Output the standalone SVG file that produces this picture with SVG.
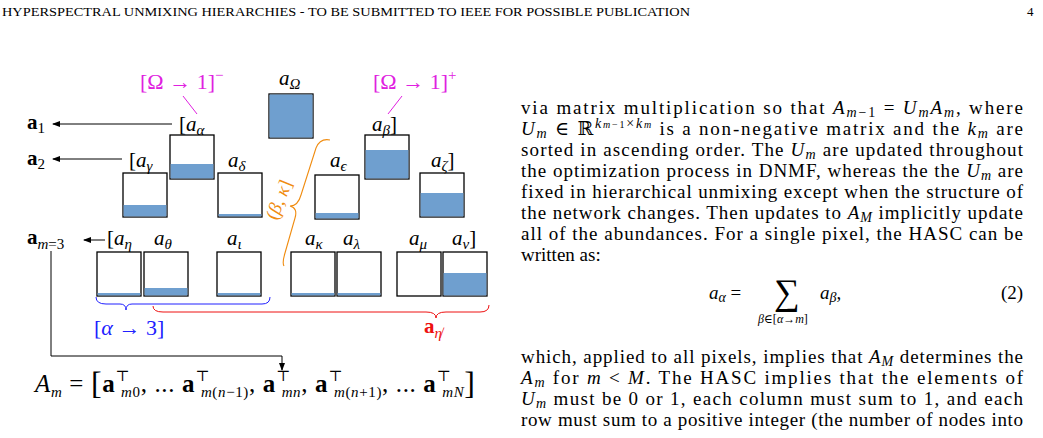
<svg xmlns="http://www.w3.org/2000/svg" width="1043" height="438" viewBox="0 0 1043 438">
<style>
text{font-family:"Liberation Serif","DejaVu Serif",serif;fill:#000}
.i{font-style:italic}
.b{font-weight:bold}
.lab{font-size:21px}
.body{font-size:19px}
.box{fill:#fff;stroke:#000;stroke-width:1.3}
.fill{fill:#6f9fcf}
.conn{fill:none;stroke:#000;stroke-width:1}
.mag{fill:#e020e0}
.s{font-size:15px}
.t{font-size:14px}
</style>
<defs>
<marker id="ah" markerWidth="8" markerHeight="6" refX="7" refY="3" orient="auto" markerUnits="userSpaceOnUse"><path d="M0,0 L8,3 L0,6 z" fill="#000"/></marker>
</defs>
<rect width="1043" height="438" fill="#fff"/>
<text x="2" y="16" font-size="13" textLength="688" lengthAdjust="spacingAndGlyphs">HYPERSPECTRAL UNMIXING HIERARCHIES - TO BE SUBMITTED TO IEEE FOR POSSIBLE PUBLICATION</text>
<text x="1027" y="16" font-size="13">4</text>

<g id="nodes">
<g id="aOmega"><rect class="box" x="269" y="94" width="44" height="44"/><rect class="fill" x="269.5" y="94.5" width="43" height="43"/><text class="lab i" x="279" y="85">a<tspan class="s" dy="4">Ω</tspan></text></g>
<g id="aAlpha"><rect class="box" x="170" y="135" width="44" height="44"/><rect class="fill" x="170.6" y="164" width="42.8" height="14.4"/><text class="lab i" x="179" y="131"><tspan font-style="normal">[</tspan>a<tspan class="s" dy="4">α</tspan></text></g>
<g id="aBeta"><rect class="box" x="365" y="135" width="44" height="44"/><rect class="fill" x="365.6" y="150" width="42.8" height="28.4"/><text class="lab i" x="372" y="131">a<tspan class="s" dy="4">β</tspan><tspan font-style="normal" dy="-4">]</tspan></text></g>
<g id="aGamma"><rect class="box" x="123" y="173" width="44" height="44"/><rect class="fill" x="123.6" y="205" width="42.8" height="11.4"/><text class="lab i" x="129" y="167"><tspan font-style="normal">[</tspan>a<tspan class="s" dy="4">γ</tspan></text></g>
<g id="aDelta"><rect class="box" x="218" y="173" width="44" height="44"/><rect class="fill" x="218.6" y="214" width="42.8" height="2.4"/><text class="lab i" x="228" y="167">a<tspan class="s" dy="4">δ</tspan></text></g>
<g id="aEps"><rect class="box" x="315" y="175" width="44" height="44"/><rect class="fill" x="315.6" y="213" width="42.8" height="5.4"/><text class="lab i" x="330" y="167">a<tspan class="s" dy="4">ϵ</tspan></text></g>
<g id="aZeta"><rect class="box" x="420" y="173" width="44" height="44"/><rect class="fill" x="420.6" y="193" width="42.8" height="23.4"/><text class="lab i" x="431" y="167">a<tspan class="s" dy="4">ζ</tspan><tspan font-style="normal" dy="-4">]</tspan></text></g>
<g id="aEta"><rect class="box" x="97" y="252" width="44" height="44"/><rect class="fill" x="97.6" y="293" width="42.8" height="2.4"/><text class="lab i" x="107" y="245"><tspan font-style="normal">[</tspan>a<tspan class="s" dy="4">η</tspan></text></g>
<g id="aTheta"><rect class="box" x="144" y="252" width="44" height="44"/><rect class="fill" x="144.6" y="288" width="42.8" height="7.4"/><text class="lab i" x="154" y="245">a<tspan class="s" dy="4">θ</tspan></text></g>
<g id="aIota"><rect class="box" x="217" y="252" width="44" height="44"/><rect class="fill" x="217.6" y="293" width="42.8" height="2.4"/><text class="lab i" x="227" y="245">a<tspan class="s" dy="4">ι</tspan></text></g>
<g id="aKappa"><rect class="box" x="291" y="252" width="44" height="44"/><rect class="fill" x="291.6" y="293" width="42.8" height="2.4"/><text class="lab i" x="305" y="245">a<tspan class="s" dy="4">κ</tspan></text></g>
<g id="aLambda"><rect class="box" x="337" y="252" width="44" height="44"/><rect class="fill" x="337.6" y="293" width="42.8" height="2.4"/><text class="lab i" x="343" y="245">a<tspan class="s" dy="4">λ</tspan></text></g>
<g id="aMu"><rect class="box" x="397" y="252" width="44" height="44"/><text class="lab i" x="409" y="245">a<tspan class="s" dy="4">μ</tspan></text></g>
<g id="aNu"><rect class="box" x="443" y="252" width="44" height="44"/><rect class="fill" x="443.6" y="273" width="42.8" height="22.4"/><text class="lab i" x="452" y="245">a<tspan class="s" dy="4">ν</tspan><tspan font-style="normal" dy="-4">]</tspan></text></g>
<g id="a1"><text class="lab b" x="27" y="129">a<tspan class="s" font-weight="normal" dy="4">1</tspan></text></g>
<g id="a2"><text class="lab b" x="27" y="165">a<tspan class="s" font-weight="normal" dy="4">2</tspan></text></g>
<g id="am3"><text class="lab b" x="27" y="244">a<tspan class="s i" font-weight="normal" dy="5">m</tspan><tspan class="s" font-weight="normal">=3</tspan></text></g>
<g id="omegaMinus"><text class="mag" x="140" y="89" font-size="22">[Ω → 1]<tspan class="s" dy="-9">−</tspan></text></g>
<g id="omegaPlus"><text class="mag" x="373" y="89" font-size="22">[Ω → 1]<tspan class="s" dy="-9">+</tspan></text></g>
<g id="alpha3"><text x="94" y="335" style="fill:#2020ff" font-size="22">[<tspan class="i">α</tspan> → 3]</text></g>
<g id="anoteta"><text class="lab b" x="424" y="333" style="fill:#ee1010">a<tspan class="s i" font-weight="normal" dy="5">η̸</tspan></text></g>
<g id="betakappa"><text transform="translate(277,221) rotate(-68)" style="fill:#f08c10" font-size="19">(<tspan class="i">β</tspan>, <tspan class="i">κ</tspan>]</text></g>
<g id="formula"><text x="35" y="392" font-size="25" textLength="440" lengthAdjust="spacing"><tspan class="i">A</tspan><tspan class="s i" dy="5">m</tspan><tspan dy="-5"> = </tspan><tspan font-size="32" dy="2">[</tspan><tspan class="b" dy="-2">a</tspan><tspan class="s" dy="-11">⊤</tspan><tspan class="s i" dx="-9" dy="16">m</tspan><tspan class="s">0</tspan><tspan dy="-5">, ... </tspan><tspan class="b">a</tspan><tspan class="s" dy="-11">⊤</tspan><tspan class="s" dx="-9" dy="16"><tspan class="i">m</tspan>(<tspan class="i">n</tspan>−1)</tspan><tspan dy="-5">, </tspan><tspan class="b">a</tspan><tspan class="s" dy="-11">⊤</tspan><tspan class="s i" dx="-9" dy="16">mn</tspan><tspan dy="-5">, </tspan><tspan class="b">a</tspan><tspan class="s" dy="-11">⊤</tspan><tspan class="s" dx="-9" dy="16"><tspan class="i">m</tspan>(<tspan class="i">n</tspan>+1)</tspan><tspan dy="-5">, ... </tspan><tspan class="b">a</tspan><tspan class="s" dy="-11">⊤</tspan><tspan class="s i" dx="-9" dy="16">mN</tspan><tspan font-size="32" dy="-3">]</tspan></text></g>
</g>

<g id="connectors">
<line class="conn" x1="172" y1="124" x2="53" y2="124" marker-end="url(#ah)"/>
<line class="conn" x1="122" y1="159" x2="53" y2="159" marker-end="url(#ah)"/>
<line class="conn" x1="105" y1="240" x2="84" y2="240" marker-end="url(#ah)"/>
<path class="conn" d="M51,251 V356 H282 V370" marker-end="url(#ah)"/>
<line stroke="#e020e0" stroke-width="1" x1="183" y1="96" x2="197" y2="114"/>
<line stroke="#e020e0" stroke-width="1" x1="402" y1="96" x2="388" y2="114"/>
<path fill="none" stroke="#2020ff" stroke-width="1" d="M96,297 Q96,304 106,304 H120 Q126,304 126,310 Q126,304 132,304 H262 Q270,304 270,297"/>
<path fill="none" stroke="#ee1010" stroke-width="1" d="M153,306 Q153,312 163,312 H426 Q436,312 436,318 Q436,312 446,312 H480 Q489,312 489,305"/>
<path fill="none" stroke="#f08c10" stroke-width="1.1" d="M330,140 Q320,138 316,148 L301,195 Q298,206 290,206 Q298,208 295,218 L285,253 Q282,263 284,266"/>
</g>

<g id="bodytext" class="body">
<text x="521" y="114" textLength="502" lengthAdjust="spacing">via matrix multiplication so that <tspan class="i">A</tspan><tspan class="t" dy="3"><tspan class="i">m</tspan>−1</tspan><tspan dy="-3"> = </tspan><tspan class="i">U</tspan><tspan class="t i" dy="3">m</tspan><tspan class="i" dy="-3">A</tspan><tspan class="t i" dy="3">m</tspan><tspan dy="-3">, where</tspan></text>
<text x="521" y="135" textLength="502" lengthAdjust="spacing"><tspan class="i">U</tspan><tspan class="t i" dy="3">m</tspan><tspan dy="-3"> ∈ ℝ</tspan><tspan class="t" dy="-7"><tspan class="i">k</tspan><tspan font-size="10" class="i">m</tspan><tspan font-size="10">−1</tspan>×<tspan class="i">k</tspan><tspan font-size="10" class="i">m</tspan></tspan><tspan dy="7"> is a non-negative matrix and the </tspan><tspan class="i">k</tspan><tspan class="t i" dy="3">m</tspan><tspan dy="-3"> are</tspan></text>
<text x="521" y="156" textLength="502" lengthAdjust="spacing">sorted in ascending order. The <tspan class="i">U</tspan><tspan class="t i" dy="3">m</tspan><tspan dy="-3"> are updated throughout</tspan></text>
<text x="521" y="177" textLength="502" lengthAdjust="spacing">the optimization process in DNMF, whereas the the <tspan class="i">U</tspan><tspan class="t i" dy="3">m</tspan><tspan dy="-3"> are</tspan></text>
<text x="521" y="198" textLength="502" lengthAdjust="spacing">fixed in hierarchical unmixing except when the structure of</text>
<text x="521" y="219" textLength="502" lengthAdjust="spacing">the network changes. Then updates to <tspan class="i">A</tspan><tspan class="t i" dy="3">M</tspan><tspan dy="-3"> implicitly update</tspan></text>
<text x="521" y="240" textLength="502" lengthAdjust="spacing">all of the abundances. For a single pixel, the HASC can be</text>
<text x="521" y="261">written as:</text>
<text x="709" y="299"><tspan class="i">a</tspan><tspan class="t i" dy="3">α</tspan><tspan dy="-3"> =</tspan></text>
<text x="774" y="304" font-size="36">∑</text>
<text x="758" y="323" font-size="12"><tspan class="i">β</tspan>∈[<tspan class="i">α</tspan>→<tspan class="i">m</tspan>]</text>
<text x="820" y="299"><tspan class="i">a</tspan><tspan class="t i" dy="3">β</tspan><tspan dy="-3">,</tspan></text>
<text x="1001" y="299">(2)</text>
<text x="521" y="363" textLength="502" lengthAdjust="spacing">which, applied to all pixels, implies that <tspan class="i">A</tspan><tspan class="t i" dy="3">M</tspan><tspan dy="-3"> determines the</tspan></text>
<text x="521" y="384" textLength="502" lengthAdjust="spacing"><tspan class="i">A</tspan><tspan class="t i" dy="3">m</tspan><tspan dy="-3"> for </tspan><tspan class="i">m</tspan> &lt; <tspan class="i">M</tspan>. The HASC implies that the elements of</text>
<text x="521" y="405" textLength="502" lengthAdjust="spacing"><tspan class="i">U</tspan><tspan class="t i" dy="3">m</tspan><tspan dy="-3"> must be 0 or 1, each column must sum to 1, and each</tspan></text>
<text x="521" y="426" textLength="502" lengthAdjust="spacing">row must sum to a positive integer (the number of nodes into</text>
</g>
</svg>
